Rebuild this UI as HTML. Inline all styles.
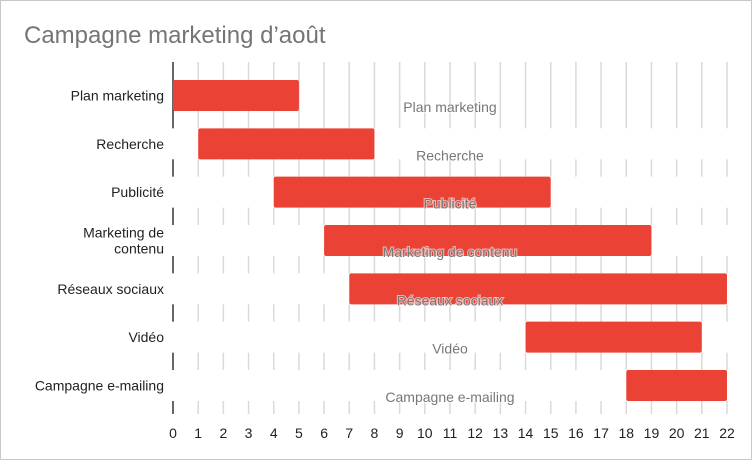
<!DOCTYPE html>
<html><head><meta charset="utf-8"><style>
body{margin:0;background:#fff}
svg{display:block;font-family:"Liberation Sans",Arial,sans-serif}
</style></head><body>
<svg id="c" width="752" height="460">
<rect x="0.5" y="0.5" width="751" height="459" fill="#fff" stroke="#c8c8c8"/>
<text x="24" y="43" font-size="24" fill="#757575">Campagne marketing d’août</text>
<g id="grid"></g><g id="bars"></g><g id="labels"></g>
</svg>
<script>
const tasks=["Plan marketing","Recherche","Publicité","Marketing de contenu","Réseaux sociaux","Vidéo","Campagne e-mailing"];
const axisLabels=[["Plan marketing"],["Recherche"],["Publicité"],["Marketing de","contenu"],["Réseaux sociaux"],["Vidéo"],["Campagne e-mailing"]];
const starts=[0,1,4,6,7,14,18];
const ends=[5,8,15,19,22,21,22];
const ticks=[0,1,2,3,4,5,6,7,8,9,10,11,12,13,14,15,16,17,18,19,20,21,22];
const NS="http://www.w3.org/2000/svg";
const x0=173,x1=727,xmax=22,top0=62,bottom=414,rowTop=80,pitch=48.33,bh=31;
const X=v=>x0+(x1-x0)*v/xmax;
const Y=i=>rowTop+pitch*i;
function mk(tag,attrs,parent){const e=document.createElementNS(NS,tag);for(const k in attrs)e.setAttribute(k,attrs[k]);parent.appendChild(e);return e;}
const g=document.getElementById('grid'),b=document.getElementById('bars'),l=document.getElementById('labels');
ticks.forEach(t=>{
  const ln=mk('line',{x1:X(t),x2:X(t),y1:top0,y2:bottom,stroke:t===0?'#333':'#dadada','stroke-width':t===0?1.5:1.5},g);
  
  
  const tx=mk('text',{x:X(t),y:438,'text-anchor':'middle','font-size':14,fill:'#222'},g);
  tx.textContent=t;
  
  
});
tasks.forEach((n,i)=>{
  if(i>0){const w=mk('rect',{x:x0-2,y:Y(i),width:x1-x0+4,height:bh,fill:'#fff'},g);
    
    }
  const r=mk('rect',{x:X(starts[i]),y:Y(i),width:X(ends[i])-X(starts[i]),height:bh,rx:2,fill:'#ea4335'},b);
  
  
  const lines=axisLabels[i];
  const cy=Y(i)+bh/2;
  lines.forEach((s,k)=>{
    const t=mk('text',{x:164,y:cy+5+(k-(lines.length-1)/2)*16,'text-anchor':'end','font-size':14,fill:'#222'},l);
    t.textContent=s;
    
    
  });
  const t2=mk('text',{x:X(11),y:Y(i)+32,'text-anchor':'middle','font-size':14,fill:'#777',stroke:'#fff','stroke-width':2,'stroke-opacity':0.6,'paint-order':'stroke'},l);
  t2.textContent=n;
  
  
});
</script>
</body></html>
